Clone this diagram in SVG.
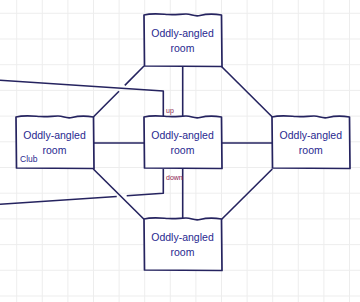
<svg xmlns="http://www.w3.org/2000/svg" width="360" height="302" viewBox="0 0 360 302">
  <defs>
    <pattern id="grid" x="16.2" y="12.8" width="25.6" height="25.7" patternUnits="userSpaceOnUse">
      <path d="M0.5,0 V25.7 M0,0.5 H25.6" fill="none" stroke="#ededed" stroke-width="1"/>
    </pattern>
    <path id="room" d="M0,0 C8,-2 16,-1 24,-0.5 S36,-1 42,-1 S50,2 56,0.5 S68,-1.5 77.5,0 L78,51.5 L0.5,51 Z"/>
  </defs>
  <style>
    .room { fill: #ffffff; stroke: #25235f; stroke-width: 1.7; stroke-linejoin: round; }
    .edge { fill: none; stroke: #25235f; stroke-width: 1.6; stroke-linecap: butt; stroke-linejoin: round; }
    .name { font-family: "Liberation Sans", Arial, sans-serif; font-size: 10.5px; fill: #28288f; text-anchor: middle; }
    .lbl { font-family: "Liberation Sans", Arial, sans-serif; font-size: 7px; fill: #8b2250; }
    .club { font-family: "Liberation Sans", Arial, sans-serif; font-size: 8.5px; fill: #28288f; }
  </style>
  <rect width="360" height="302" fill="#ffffff"/>
  <rect width="360" height="302" fill="url(#grid)"/>

  <g id="connectors">
    <polyline class="edge" points="0,80.3 163.3,91 163.3,117"/>
    <polyline class="edge" points="144,66 124.8,85.4"/>
    <polyline class="edge" points="119,91.3 93.3,117"/>
    <line class="edge" x1="182.7" y1="66" x2="182.7" y2="117"/>
    <line class="edge" x1="221" y1="66" x2="272.3" y2="117"/>
    <line class="edge" x1="93.3" y1="143" x2="144" y2="143"/>
    <line class="edge" x1="221.5" y1="143" x2="272.3" y2="143"/>
    <line class="edge" x1="93.3" y1="169" x2="144" y2="219.3"/>
    <polyline class="edge" points="163.3,169 163.3,193.3 126.7,195.8"/>
    <polyline class="edge" points="116.7,196.5 0,204.3"/>
    <line class="edge" x1="182.7" y1="169" x2="182.7" y2="219"/>
    <line class="edge" x1="272.3" y1="169" x2="221.7" y2="219.3"/>
    <text class="lbl" x="166" y="112.5">up</text>
    <text class="lbl" x="166" y="179.5">down</text>
  </g>

  <g id="room-top">
    <use href="#room" class="room" x="144" y="15"/>
    <text class="name" x="182.5" y="37">Oddly-angled</text>
    <text class="name" x="182.5" y="51.5">room</text>
  </g>
  <g id="room-left">
    <use href="#room" class="room" x="16" y="117"/>
    <text class="name" x="54.5" y="139">Oddly-angled</text>
    <text class="name" x="54.5" y="153.5">room</text>
    <text class="club" x="20" y="162">Club</text>
  </g>
  <g id="room-middle">
    <use href="#room" class="room" x="144" y="117"/>
    <text class="name" x="182.5" y="139">Oddly-angled</text>
    <text class="name" x="182.5" y="153.5">room</text>
  </g>
  <g id="room-right">
    <use href="#room" class="room" x="272" y="117"/>
    <text class="name" x="310.8" y="139">Oddly-angled</text>
    <text class="name" x="310.8" y="153.5">room</text>
  </g>
  <g id="room-bottom">
    <use href="#room" class="room" x="144" y="219"/>
    <text class="name" x="182.5" y="241">Oddly-angled</text>
    <text class="name" x="182.5" y="255.5">room</text>
  </g>
</svg>
